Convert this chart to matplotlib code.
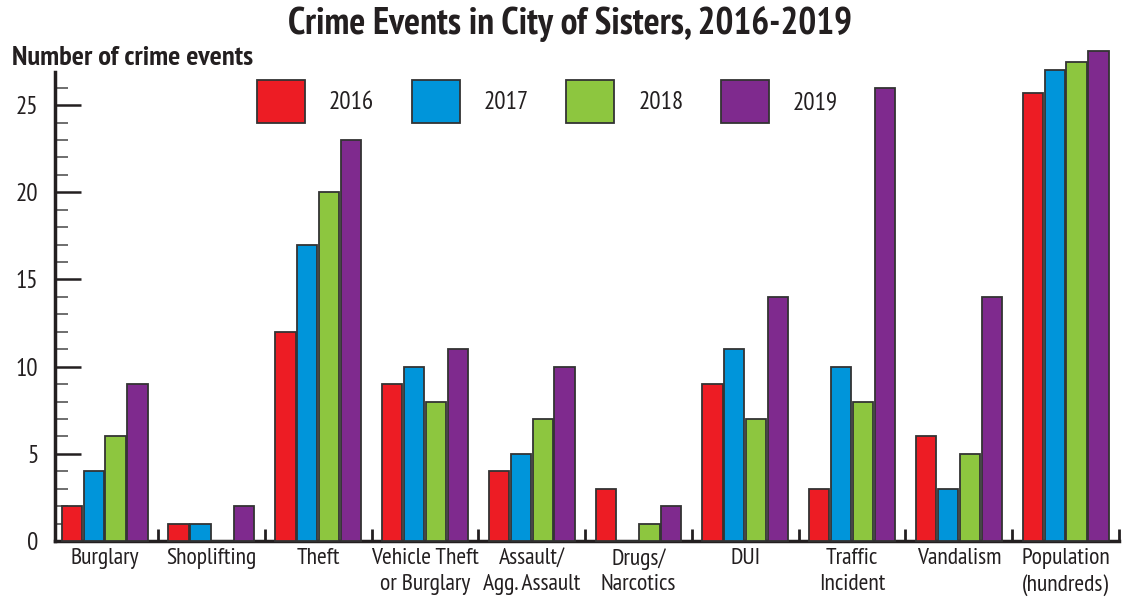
import numpy as np
import matplotlib
matplotlib.use("Agg")
import matplotlib.pyplot as plt
from matplotlib.ticker import MultipleLocator, FixedLocator

plt.rcParams['font.family'] = ['PT Sans Narrow', 'Fira Sans Condensed', 'DejaVu Sans']

categories = ["Burglary", "Shoplifting", "Theft", "Vehicle Theft\nor Burglary",
              "Assault/\nAgg. Assault", "Drugs/\nNarcotics", "DUI",
              "Traffic\nIncident", "Vandalism", "Population\n(hundreds)"]
years = ["2016", "2017", "2018", "2019"]
v2016 = [2, 1, 12, 9, 4, 3, 9, 3, 6, 25.7]
v2017 = [4, 1, 17, 10, 5, 0, 11, 10, 3, 27.0]
v2018 = [6, 0, 20, 8, 7, 1, 7, 8, 5, 27.5]
v2019 = [9, 2, 23, 11, 10, 2, 14, 26, 14, 28.1]
colors = ["#ED1C24", "#0095DA", "#8DC63F", "#7F2A8E"]

txt = "#231F20"

fig = plt.figure(figsize=(11.4, 6.02), dpi=100)
ax = fig.add_axes([55/1140, 1 - 541/602, (1119 - 55)/1140, (541 - 72)/602])

x = np.arange(len(categories))
w = 0.19
pitch = 0.205
for k, vals in enumerate([v2016, v2017, v2018, v2019]):
    off = (k - 1.5) * pitch
    ax.bar(x + off, vals, w, color=colors[k], edgecolor="#333333",
           linewidth=1.3, label=years[k], clip_on=False, zorder=3)

ax.set_xlim(-0.465, 9.5)
ax.set_ylim(0, 26.9)

for s in ["top", "right"]:
    ax.spines[s].set_visible(False)
for s in ["left", "bottom"]:
    ax.spines[s].set_linewidth(2.5)
    ax.spines[s].set_color(txt)

ax.yaxis.set_major_locator(MultipleLocator(5))
ax.yaxis.set_minor_locator(MultipleLocator(1))
ax.tick_params(axis="y", which="major", direction="in", length=19, width=1.8,
               colors=txt, labelsize=18, pad=12)
ax.tick_params(axis="y", which="minor", direction="in", length=9, width=1.2,
               colors="#555555")

ax.set_xticks(x)
ax.set_xticklabels(categories, fontsize=17, color=txt, linespacing=1.3)
ax.xaxis.set_minor_locator(FixedLocator(np.arange(0.5, 10, 1)))
ax.tick_params(axis="x", which="major", length=0, pad=5)
ax.tick_params(axis="x", which="minor", direction="in", length=9, width=2,
               colors=txt)

leg = ax.legend(ncol=4, frameon=False, loc="upper left",
                bbox_to_anchor=((257 - 55)/1064, (541 - 80)/469),
                borderaxespad=0, borderpad=0, fontsize=18,
                handlelength=1.92, handleheight=2.3, handletextpad=0.96,
                columnspacing=1.5)
for t in leg.get_texts():
    t.set_color(txt)

fig.text(0.5, 0.96, "Crime Events in City of Sisters, 2016-2019", ha="center",
         va="center", fontsize=27, fontweight="bold", color=txt)
fig.text(12/1140, 1 - 58/602, "Number of crime events", ha="left", va="center",
         fontsize=20.5, fontweight="bold", color=txt)

fig.savefig("out.png", dpi=100)
